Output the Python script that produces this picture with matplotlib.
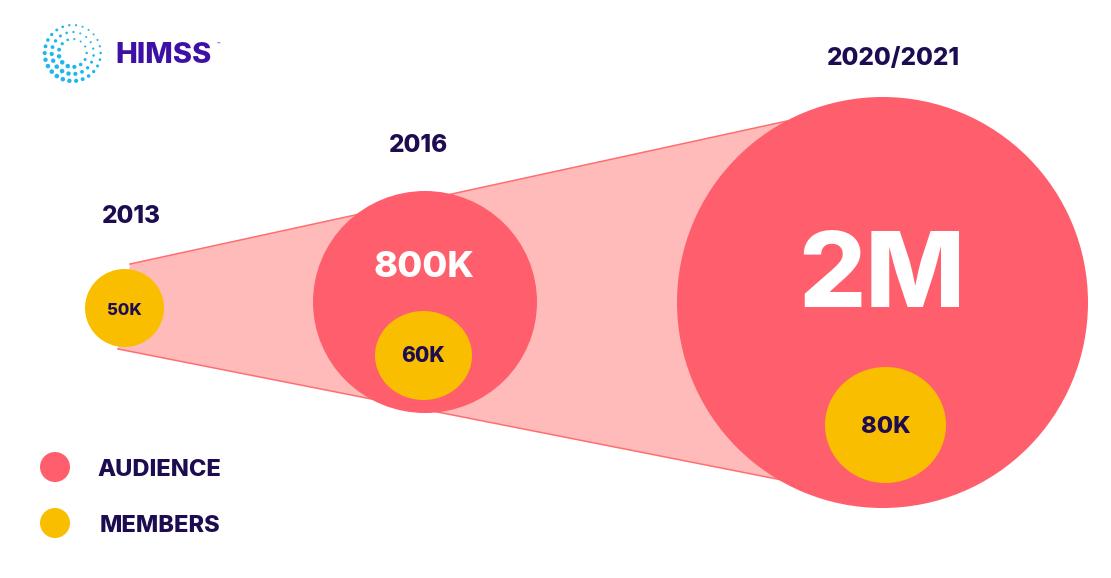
import numpy as np
import matplotlib
matplotlib.use("Agg")
import matplotlib.pyplot as plt
from matplotlib.patches import Ellipse, Polygon

# ---- data ----
years = ["2013", "2016", "2020/2021"]
audience_labels = [None, "800K", "2M"]
member_labels = ["50K", "60K", "80K"]
legend_labels = ["AUDIENCE", "MEMBERS"]
brand = "HIMSS"

# ---- layout (pixel coordinates, y down) ----
W, H = 1111, 578
col_x = [124.5, 425, 882.5]
aud_center_y = [None, 302, 302.5]
aud_size = [None, (224, 222), (411, 411)]
mem_center = [(124.5, 308), (423.5, 355.5), (885.5, 425)]
mem_size = [(79, 78), (97, 89), (121, 116)]
year_pos = [(131, 223), (418, 152), (893, 65)]
aud_text_base = [None, 277, 307]
aud_text_x = [None, 424, 881.5]
mem_text_base = [315, 362, 433]
cone = [(130, 264), (787, 121), (787, 481), (118, 349)]

CORAL = "#FF5E6C"
YELLOW = "#F9BE00"
CONE = "#FFBABA"
CONE_EDGE = "#FF6E72"
NAVY = "#1E0C50"
PURPLE = "#3F10A6"
CYAN = "#1FB8EC"
FONT = "Inter"

fig = plt.figure(figsize=(W / 100, H / 100), dpi=100)
ax = fig.add_axes([0, 0, 1, 1])
ax.set_xlim(0, W)
ax.set_ylim(H, 0)
ax.axis("off")

# cone
ax.add_patch(Polygon(cone, closed=True, facecolor=CONE, edgecolor="none", zorder=1))
ax.plot([cone[0][0], cone[1][0]], [cone[0][1], cone[1][1]], color=CONE_EDGE, lw=1.1, zorder=1.5)
ax.plot([cone[3][0], cone[2][0]], [cone[3][1], cone[2][1]], color=CONE_EDGE, lw=1.1, zorder=1.5)

# audience circles
for i in range(len(years)):
    if audience_labels[i] is None:
        continue
    w, h = aud_size[i]
    ax.add_patch(Ellipse((col_x[i], aud_center_y[i]), w, h, facecolor=CORAL,
                         edgecolor="none", zorder=2))

# member circles
for i in range(len(years)):
    w, h = mem_size[i]
    ax.add_patch(Ellipse(mem_center[i], w, h, facecolor=YELLOW, edgecolor="none", zorder=3))

# texts
year_fs = 17.5
for i, y in enumerate(years):
    ax.text(year_pos[i][0], year_pos[i][1], y, ha="center", va="baseline",
            fontsize=year_fs, fontweight="heavy", color=NAVY, family=FONT, zorder=5)

aud_fs = [None, 26, 76]
for i, lab in enumerate(audience_labels):
    if lab is None:
        continue
    ax.text(aud_text_x[i], aud_text_base[i], lab, ha="center", va="baseline",
            fontsize=aud_fs[i], fontweight="heavy", color="white", family=FONT, zorder=5)

mem_fs = [12, 15, 17]
for i, lab in enumerate(member_labels):
    ax.text(mem_center[i][0], mem_text_base[i], lab, ha="center", va="baseline",
            fontsize=mem_fs[i], fontweight="heavy", color=NAVY, family=FONT, zorder=5)

# legend
leg_colors = [CORAL, YELLOW]
leg_y = [467, 523]
leg_text_x = [97, 100]
for c, y, lab, tx in zip(leg_colors, leg_y, legend_labels, leg_text_x):
    ax.add_patch(Ellipse((55, y), 30, 30, facecolor=c, edgecolor="none", zorder=3))
    ax.text(tx, y + 8.5, lab, ha="left", va="baseline", fontsize=17,
            fontweight="heavy", color=NAVY, family=FONT, zorder=5)

# logo: dotted ring (decorative)
cx, cy = 72.7, 53.0
rings = [(14, 13), (21, 19), (28, 26)]
for k, (r, n) in enumerate(rings):
    ang = np.linspace(0, 2 * np.pi, n, endpoint=False) + k * 0.12
    weight = 0.5 * (1 + np.cos(ang - np.deg2rad(130)))  # y-down: lower-left
    diam_px = 2.0 + 2.6 * weight
    sizes = (diam_px * 0.72) ** 2
    xs = cx + r * np.cos(ang)
    ys = cy + r * np.sin(ang)
    ax.scatter(xs, ys, s=sizes, color=CYAN, edgecolors="none", zorder=5)

ax.text(115, 63, brand, ha="left", va="baseline", fontsize=21, fontweight="heavy",
        color=PURPLE, family=FONT, zorder=5)
ax.text(217, 46, "™", ha="left", va="baseline", fontsize=4, color=PURPLE,
        family=FONT, zorder=5)

fig.savefig("out.png", dpi=100, facecolor="white")
